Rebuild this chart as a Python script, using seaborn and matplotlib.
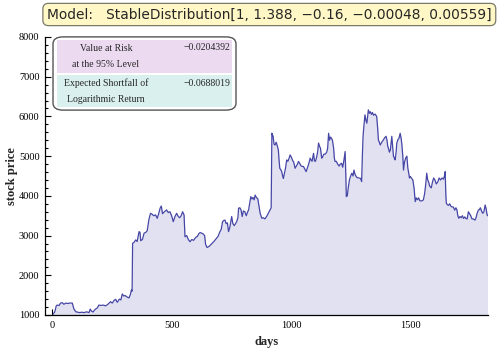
import numpy as np
import pandas as pd
import seaborn as sns
import matplotlib.pyplot as plt
from matplotlib.patches import FancyBboxPatch, Rectangle
from matplotlib.ticker import MultipleLocator

# stock price path (day, price)
days = [5, 12, 18, 22, 30, 36, 43, 50, 58, 66, 75, 85, 92, 100, 106, 115, 125, 135, 145, 155,
        160, 165, 172, 180, 190, 196, 205, 215, 224, 232, 245, 252, 260, 266, 273, 282, 288, 294, 300, 306,
        312, 322, 328, 332, 335, 337, 343, 350, 356, 364, 368, 371, 378, 385, 392, 398, 405, 412, 418, 425,
        433, 440, 446, 452, 457, 462, 470, 479, 486, 493, 500, 507, 514, 521, 528, 534, 540, 546, 552, 556,
        563, 570, 577, 584, 592, 600, 608, 614, 619, 626, 632, 638, 642, 648, 655, 662, 670, 678, 686, 694,
        702, 707, 713, 718, 723, 728, 733, 738, 743, 748, 751, 756, 762, 767, 772, 777, 780, 785, 790, 795,
        800, 806, 812, 818, 822, 825, 829, 831, 836, 840, 845, 849, 855, 860, 866, 870, 877, 883, 890, 897,
        904, 911, 916, 919, 924, 928, 932, 937, 942, 946, 949, 952, 957, 960, 964, 967, 971, 976, 981, 986,
        991, 995, 1000, 1005, 1010, 1016, 1022, 1026, 1030, 1035, 1040, 1046, 1051, 1056, 1062, 1066, 1070, 1075, 1079, 1083,
        1087, 1093, 1097, 1101, 1105, 1110, 1114, 1118, 1122, 1127, 1131, 1136, 1142, 1148, 1152, 1156, 1160, 1164, 1168, 1172,
        1177, 1180, 1183, 1188, 1194, 1200, 1205, 1210, 1215, 1220, 1225, 1228, 1230, 1234, 1238, 1243, 1248, 1253, 1258, 1262,
        1266, 1270, 1275, 1282, 1288, 1292, 1294, 1297, 1300, 1304, 1308, 1312, 1316, 1319, 1322, 1326, 1330, 1335, 1339, 1344,
        1350, 1357, 1361, 1364, 1368, 1372, 1378, 1384, 1390, 1396, 1400, 1403, 1406, 1410, 1414, 1420, 1424, 1427, 1431, 1434,
        1438, 1441, 1446, 1450, 1455, 1459, 1462, 1466, 1469, 1473, 1478, 1483, 1487, 1490, 1494, 1497, 1502, 1508, 1513, 1518,
        1522, 1527, 1532, 1537, 1542, 1548, 1552, 1557, 1562, 1566, 1570, 1574, 1578, 1580, 1585, 1590, 1595, 1600, 1606, 1612,
        1618, 1624, 1630, 1636, 1640, 1643, 1646, 1648, 1652, 1657, 1662, 1667, 1672, 1677, 1683, 1688, 1692, 1696, 1700, 1705,
        1710, 1715, 1720, 1725, 1730, 1735, 1740, 1745, 1750, 1755, 1760, 1765, 1768, 1772, 1776, 1782, 1786, 1790, 1795, 1800,
        1805, 1810, 1814, 1817, 1820]
price = [1020, 1080, 1230, 1250, 1240, 1300, 1310, 1270, 1300, 1290, 1300, 1300, 1150, 1080, 1075, 1060, 1070, 1060, 1080, 1060,
         1150, 1100, 1075, 1140, 1180, 1250, 1240, 1250, 1230, 1260, 1335, 1300, 1370, 1395, 1320, 1400, 1380, 1530, 1480, 1490,
         1460, 1430, 1520, 1630, 1600, 2805, 2830, 2890, 2850, 3100, 3080, 2870, 2900, 3060, 3080, 3120, 3400, 3560, 3540, 3500,
         3520, 3435, 3550, 3690, 3745, 3550, 3600, 3645, 3580, 3600, 3500, 3350, 3480, 3560, 3480, 3450, 3500, 3600, 3520, 2970,
         3000, 2900, 2845, 2900, 2880, 2950, 2980, 3050, 3075, 3060, 3040, 3000, 2780, 2700, 2720, 2760, 2810, 2860, 2920, 2980,
         3100, 3150, 3350, 3380, 3390, 3300, 3320, 3100, 3200, 3380, 3480, 3300, 3250, 3300, 3350, 3450, 3690, 3700, 3650, 3480,
         3620, 3600, 3500, 3600, 3650, 3770, 3900, 3980, 3920, 3960, 3900, 4020, 3950, 3930, 3700, 3560, 3435, 3450, 3420, 3480,
         3560, 3645, 3700, 5575, 5500, 5300, 5280, 5350, 5250, 5155, 4900, 4695, 4650, 4610, 4500, 4440, 4550, 4700, 4905, 4870,
         4950, 5030, 4980, 4900, 4850, 4695, 4760, 4800, 4865, 4820, 4760, 4740, 4740, 4680, 4610, 4680, 4750, 4850, 4950, 4900,
         4870, 5070, 4880, 4870, 4950, 5100, 5330, 5250, 5200, 4950, 4980, 5050, 5050, 5100, 5200, 5575, 5400, 5480, 5450, 5400,
         5200, 4950, 4865, 4870, 4800, 4750, 4800, 4820, 4720, 4900, 5115, 4500, 3980, 4000, 4200, 4400, 4500, 4570, 4500, 4650,
         4550, 4500, 4460, 4450, 4445, 4400, 4360, 5000, 5500, 5800, 6040, 5900, 5830, 6000, 6165, 6080, 6120, 6050, 6100, 6030,
         6060, 6000, 5700, 5410, 5350, 5280, 5350, 5400, 5460, 5500, 5400, 5250, 5200, 5100, 5150, 5500, 5200, 5000, 4950, 4905,
         5100, 5330, 5420, 5450, 5575, 5450, 5300, 5000, 4650, 4850, 4950, 5000, 4700, 4600, 4450, 4490, 4450, 4400, 4200, 3855,
         3950, 3900, 3950, 3880, 3870, 3880, 3900, 4050, 4300, 4570, 4400, 4350, 4250, 4235, 4200, 4350, 4450, 4400, 4300, 4350,
         4450, 4400, 4450, 4420, 4500, 4610, 4000, 3815, 3780, 3760, 3800, 3740, 3720, 3720, 3640, 3700, 3650, 3500, 3435, 3480,
         3450, 3500, 3430, 3470, 3430, 3420, 3600, 3550, 3500, 3420, 3420, 3400, 3390, 3450, 3550, 3645, 3650, 3700, 3620, 3560,
         3600, 3770, 3680, 3560, 3500]

model_text = "Model:   StableDistribution[1, 1.388, \u22120.16, \u22120.00048, 0.00559]"
risk_labels = ["Value at Risk\nat the 95% Level", "Expected Shortfall of\nLogarithmic Return"]
risk_values = ["\u22120.0204392", "\u22120.0688019"]

df = pd.DataFrame({"days": days, "stock price": price})

sns.set_theme(style="white")
plt.rcParams['font.family'] = ['Liberation Serif', 'DejaVu Serif']

W, H = 500, 351
fig = plt.figure(figsize=(W / 100, H / 100), dpi=100)
ax = fig.add_axes([45 / W, 1 - 315 / H, (488 - 45) / W, (315 - 37) / H])

line_col = "#4646a6"
ax.fill_between(df["days"], 1000, df["stock price"], color="#e1e1f2", lw=0)
sns.lineplot(data=df, x="days", y="stock price", color=line_col, lw=0.9, ax=ax)

ax.set_xlim(-29, 1822)
ax.set_ylim(1000, 8000)
ax.xaxis.set_major_locator(MultipleLocator(500))
ax.xaxis.set_minor_locator(MultipleLocator(100))
ax.yaxis.set_major_locator(MultipleLocator(1000))
ax.yaxis.set_minor_locator(MultipleLocator(200))
for s in ["top", "right"]:
    ax.spines[s].set_visible(False)
for s in ["left", "bottom"]:
    ax.spines[s].set_color("black")
    ax.spines[s].set_linewidth(0.9)
ax.tick_params(which="both", direction="in", colors="black", labelsize=7.5,
               bottom=True, left=True, width=0.8)
ax.tick_params(which="major", length=4.5, pad=4)
ax.tick_params(which="minor", length=2.5)
ax.set_xlabel("days", fontsize=9, fontweight="bold", labelpad=5)
ax.set_ylabel("stock price", fontsize=9, fontweight="bold", labelpad=0.5)


def fx(x):
    return x / W


def fy(y):
    return 1 - y / H


# title box with the model
fig.text(fx(47), fy(14.5), model_text, family="DejaVu Sans", fontsize=9.9, va="center", ha="left",
         bbox=dict(boxstyle="round,pad=0.3,rounding_size=0.4", fc="#fff8c6", ec="#7a7a6a", lw=0.9))

# inset table
box = FancyBboxPatch((fx(56), fy(108)), fx(177), (108 - 39) / H,
                     boxstyle="round,pad=0.006,rounding_size=0.02", transform=fig.transFigure,
                     fc="white", ec="#555555", lw=1.0, zorder=5)
fig.patches.append(box)
row_cols = ["#ecdaf0", "#d9f0ee"]
row_tops = [40, 75]
row_bots = [73, 107]
for i in range(2):
    fig.patches.append(Rectangle((fx(57), fy(row_bots[i])), fx(232 - 57), (row_bots[i] - row_tops[i]) / H,
                                 transform=fig.transFigure, fc=row_cols[i], ec="none", zorder=6))
    mid = (row_tops[i] + row_bots[i]) / 2
    fig.text(fx(106), fy(mid), risk_labels[i], fontsize=7, ha="center", va="center",
             linespacing=1.9, zorder=7)
    fig.text(fx(230), fy(row_tops[i] + 8), risk_values[i], fontsize=7, ha="right", va="center", zorder=7)

fig.savefig("out.png", dpi=100, facecolor="white")
